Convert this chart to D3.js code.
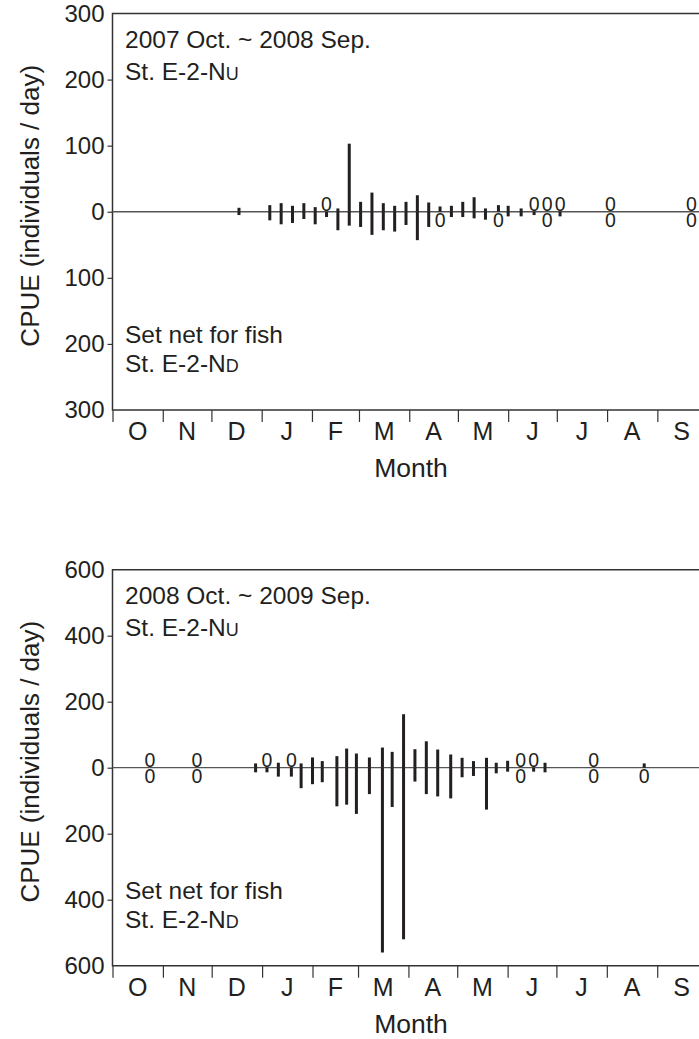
<!DOCTYPE html>
<html>
<head>
<meta charset="utf-8">
<script src="https://cdn.jsdelivr.net/npm/d3@7"></script>
<style>
  body { margin: 0; background: #fff; }
  svg text { font-family: "Liberation Sans", Arial, Helvetica, sans-serif; fill: #231f20; }
</style>
</head>
<body>
<svg id="chart" width="699" height="1039"></svg>
<script>
// Month initials along the x axis (October to September)
const monthLabels = ["O", "N", "D", "J", "F", "M", "A", "M", "J", "J", "A", "S"];

// 2007 Oct. ~ 2008 Sep. : sampling dates, upstream net (upper) and downstream net (lower)
const dates0708 = ["2007-12-18", "2008-01-06", "2008-01-13", "2008-01-20", "2008-01-27",
  "2008-02-03", "2008-02-10", "2008-02-17", "2008-02-24", "2008-03-02", "2008-03-09",
  "2008-03-16", "2008-03-23", "2008-03-30", "2008-04-06", "2008-04-13", "2008-04-20",
  "2008-04-27", "2008-05-04", "2008-05-11", "2008-05-18", "2008-05-26", "2008-06-01",
  "2008-06-09", "2008-06-17", "2008-06-25", "2008-07-03", "2008-08-03", "2008-09-22"];
const upper0708 = [6, 10, 13, 9, 13, 7, 0, 5, 103, 15, 29, 13, 9, 15, 25, 14, 8,
  9, 15, 22, 5, 10, 9, 5, 0, 0, 0, 0, 0];
const lower0708 = [5, 13, 19, 17, 11, 19, 8, 28, 21, 23, 35, 28, 30, 20, 43, 23, 0,
  8, 8, 10, 12, 0, 7, 7, 5, 0, 7, 0, 0];
const ticks0708 = [-300, -200, -100, 0, 100, 200, 300];

// 2008 Oct. ~ 2009 Sep.
const dates0809 = ["2008-10-24", "2008-11-22", "2008-12-28", "2009-01-04", "2009-01-11",
  "2009-01-19", "2009-01-25", "2009-02-01", "2009-02-07", "2009-02-16", "2009-02-22",
  "2009-02-28", "2009-03-08", "2009-03-16", "2009-03-22", "2009-03-29", "2009-04-05",
  "2009-04-12", "2009-04-19", "2009-04-27", "2009-05-04", "2009-05-11", "2009-05-19",
  "2009-05-25", "2009-06-01", "2009-06-09", "2009-06-17", "2009-06-24", "2009-07-24",
  "2009-08-24"];
const upper0809 = [0, 0, 13, 0, 15, 0, 13, 31, 20, 35, 58, 43, 31, 61, 48, 162, 56,
  80, 55, 40, 30, 20, 30, 15, 21, 0, 0, 15, 0, 13];
const lower0809 = [0, 0, 14, 14, 27, 27, 62, 50, 44, 117, 112, 140, 80, 560, 119, 520, 42,
  80, 87, 93, 29, 25, 127, 17, 12, 0, 12, 14, 0, 0];
const ticks0809 = [-600, -400, -200, 0, 200, 400, 600];

const panels = [
  { period: "2007 Oct. ~ 2008 Sep.", start: "2007-10-01", end: "2008-10-01",
    dates: dates0708, upper: upper0708, lower: lower0708, ticks: ticks0708,
    top: 13.5, bottom: 410 },
  { period: "2008 Oct. ~ 2009 Sep.", start: "2008-10-01", end: "2009-10-01",
    dates: dates0809, upper: upper0809, lower: lower0809, ticks: ticks0809,
    top: 569.7, bottom: 965.7 }
];

const svg = d3.select("#chart");
const ink = "#231f20";
const frameColor = "#333";
const left = 112.5, right = 706;
const parse = d3.utcParse("%Y-%m-%d");

panels.forEach(p => {
  const g = svg.append("g");
  const t0 = parse(p.start), t1 = parse(p.end);
  const x = d3.scaleUtc().domain([t0, t1]).range([left, right]);
  const maxV = d3.max(p.ticks);
  const y = d3.scaleLinear().domain([-maxV, maxV]).range([p.bottom, p.top]);

  // y axis with unsigned labels on both sides of zero
  const yAxis = g.append("g")
    .attr("transform", `translate(${left},0)`)
    .call(d3.axisLeft(y).tickValues(p.ticks).tickFormat(d => Math.abs(d))
      .tickSize(5).tickSizeOuter(0).tickPadding(3));
  yAxis.select(".domain").remove();
  yAxis.selectAll(".tick line").attr("stroke", frameColor).attr("stroke-width", 1.2);
  yAxis.selectAll(".tick text").attr("font-size", 24).attr("fill", ink)
    .style("font-family", '"Liberation Sans", Arial, sans-serif');
  // the outermost ticks sit on the frame corners
  yAxis.selectAll(".tick").filter(d => Math.abs(d) === maxV).select("line").remove();

  // x axis: month boundaries as downward ticks
  const monthStarts = d3.utcMonth.range(t0, t1);
  const xAxis = g.append("g")
    .attr("transform", `translate(0,${p.bottom})`)
    .call(d3.axisBottom(x).tickValues(monthStarts).tickFormat("").tickSize(12).tickSizeOuter(0));
  xAxis.select(".domain").remove();
  xAxis.selectAll(".tick line").attr("stroke", frameColor).attr("stroke-width", 1.2);

  // month initials centred in each month
  g.selectAll("text.month")
    .data(monthStarts)
    .join("text")
    .attr("class", "month")
    .attr("x", d => (x(d) + x(d3.utcMonth.offset(d, 1))) / 2)
    .attr("y", p.bottom + 30)
    .attr("text-anchor", "middle")
    .attr("font-size", 25)
    .text((d, i) => monthLabels[i]);

  // frame: top, left, bottom
  g.append("path")
    .attr("d", `M${right},${p.top}H${left}V${p.bottom}H${right}`)
    .attr("fill", "none").attr("stroke", frameColor).attr("stroke-width", 1.5);

  // zero line
  g.append("line")
    .attr("x1", left).attr("x2", right)
    .attr("y1", y(0)).attr("y2", y(0))
    .attr("stroke", "#555").attr("stroke-width", 1.3);

  const rows = p.dates.map((d, i) => ({ t: parse(d), up: p.upper[i], down: p.lower[i] }));
  const barW = 3;

  // upstream catches above the zero line
  g.selectAll("rect.up")
    .data(rows.filter(r => r.up > 0))
    .join("rect")
    .attr("class", "up")
    .attr("x", r => x(r.t) - barW / 2)
    .attr("width", barW)
    .attr("y", r => y(r.up))
    .attr("height", r => y(0) - y(r.up))
    .attr("fill", ink);

  // downstream catches below the zero line
  g.selectAll("rect.down")
    .data(rows.filter(r => r.down > 0))
    .join("rect")
    .attr("class", "down")
    .attr("x", r => x(r.t) - barW / 2)
    .attr("width", barW)
    .attr("y", y(0))
    .attr("height", r => y(-r.down) - y(0))
    .attr("fill", ink);

  // nets sampled with no catch are marked with a 0
  g.selectAll("text.zeroUp")
    .data(rows.filter(r => r.up === 0))
    .join("text")
    .attr("class", "zeroUp")
    .attr("x", r => x(r.t))
    .attr("y", y(0) - 0.5)
    .attr("text-anchor", "middle")
    .attr("font-size", 19.5)
    .text("0");
  g.selectAll("text.zeroDown")
    .data(rows.filter(r => r.down === 0))
    .join("text")
    .attr("class", "zeroDown")
    .attr("x", r => x(r.t))
    .attr("y", y(0) + 15)
    .attr("text-anchor", "middle")
    .attr("font-size", 19.5)
    .text("0");

  // station / period annotations
  const upText = g.append("g").attr("font-size", 24.5);
  upText.append("text").attr("x", 125).attr("y", p.top + 34).text(p.period);
  const nu = upText.append("text").attr("x", 125).attr("y", p.top + 66).text("St. E-2-N");
  nu.append("tspan").attr("font-size", 18).text("U");

  const dnText = g.append("g").attr("font-size", 24.5);
  dnText.append("text").attr("x", 125).attr("y", p.bottom - 67).text("Set net for fish");
  const nd = dnText.append("text").attr("x", 125).attr("y", p.bottom - 38).text("St. E-2-N");
  nd.append("tspan").attr("font-size", 18).text("D");

  // axis titles
  g.append("text")
    .attr("transform", `translate(39,${(p.top + p.bottom) / 2 - 6}) rotate(-90)`)
    .attr("text-anchor", "middle")
    .attr("font-size", 26)
    .text("CPUE (individuals / day)");
  g.append("text")
    .attr("x", 411)
    .attr("y", p.bottom + 67)
    .attr("text-anchor", "middle")
    .attr("font-size", 26.5)
    .text("Month");
});
</script>
</body>
</html>
